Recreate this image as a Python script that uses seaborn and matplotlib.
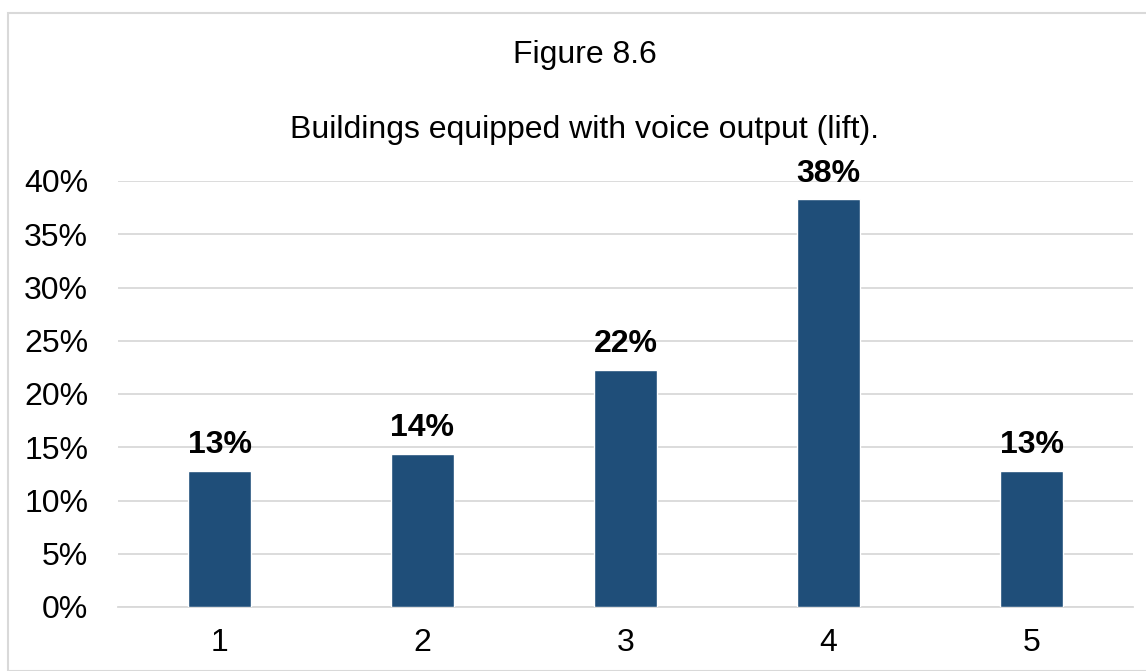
import pandas as pd
import numpy as np
import matplotlib.pyplot as plt
import seaborn as sns
from matplotlib.patches import Rectangle
from matplotlib.ticker import PercentFormatter

sns.set_style('white')
plt.rcParams['font.family'] = ['Liberation Sans', 'DejaVu Sans']
plt.rcParams['text.color'] = 'black'

# Data
categories = ['1', '2', '3', '4', '5']
shares = [12.8, 14.4, 22.3, 38.3, 12.8]
labels = ['13%', '14%', '22%', '38%', '13%']

df = pd.DataFrame({'cat': categories, 'share': shares})

fig = plt.figure(figsize=(11.46, 6.71), dpi=100)
ax = fig.add_axes([118 / 1146, 1 - 607 / 671, 1015 / 1146, 426 / 671])

sns.barplot(data=df, x='cat', y='share', color='#1F4E79', width=0.315,
            saturation=1, ax=ax, zorder=3)

ax.set_ylim(0, 40)
ax.set_yticks(np.arange(0, 41, 5))
ax.yaxis.set_major_formatter(PercentFormatter(decimals=0))
ax.grid(axis='y', color='#D9D9D9', linewidth=1.3, zorder=0)
ax.set_xlabel('')
ax.set_ylabel('')
ax.tick_params(axis='both', labelsize=23, length=0, colors='black')
ax.tick_params(axis='y', pad=21.5)
ax.tick_params(axis='x', pad=15)
for s in ['top', 'right', 'left']:
    ax.spines[s].set_visible(False)
ax.spines['bottom'].set_color('#D9D9D9')
ax.spines['bottom'].set_linewidth(1.3)

# value labels
for bar, lab in zip(ax.patches, labels):
    ax.annotate(lab, (bar.get_x() + bar.get_width() / 2, bar.get_height()),
                xytext=(0, 7.5), textcoords='offset points', ha='center',
                va='bottom', fontsize=23, fontweight='bold', color='black')

fig.text(585 / 1146, 1 - 55 / 671, 'Figure 8.6', ha='center', va='center',
         fontsize=23, color='black')
fig.text(585 / 1146, 1 - 130 / 671, 'Buildings equipped with voice output (lift).',
         ha='center', va='center', fontsize=23, color='black')

# chart frame
fig.patches.append(Rectangle((8 / 1146, 0), 1140 / 1146, 1 - 13 / 671,
                             transform=fig.transFigure, fill=False,
                             edgecolor='#D9D9D9', linewidth=1.5))

fig.savefig('out.png', dpi=100)
